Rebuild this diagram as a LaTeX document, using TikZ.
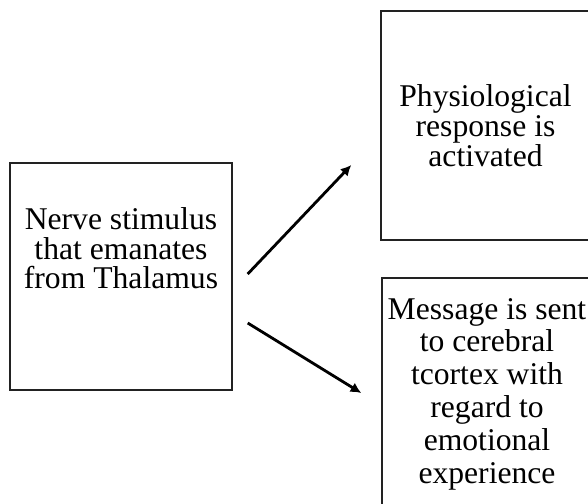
\documentclass[tikz,border=0pt]{standalone}
\usepackage{fontspec}
\setmainfont{Liberation Serif}
\usepackage{tikz}
\usetikzlibrary{positioning, arrows.meta, calc}
\definecolor{boxline}{HTML}{222222}

\begin{document}
\begin{tikzpicture}[
  x=0.03cm, y=-0.03cm,
  stagebox/.style={
    rectangle, draw=boxline, line width=1.2pt, fill=white,
    font=\fontsize{27}{28}\selectfont, align=center, inner sep=4pt
  },
  flow/.style={line width=2.4pt, -{Latex[length=3.2mm,width=3.2mm]}},
]
\useasboundingbox (0,0) rectangle (588,504);

% Source box
\node[stagebox, font=\fontsize{27}{25}\selectfont, text depth=1.7cm,
  minimum width=6.66cm, minimum height=6.81cm] (nerve) at (121,276.5) {
  Nerve stimulus\\
  that emanates\\
  from Thalamus
};

% Response boxes
\node[stagebox, font=\fontsize{27}{25.5}\selectfont,
  minimum width=6.27cm, minimum height=6.87cm] (phys) at (485.5,125.5) {
  Physiological\\
  response is\\
  activated
};

\node[stagebox, minimum width=6.3cm, minimum height=6.96cm] (msg) at (487,394) {
  Message is sent\\
  to cerebral\\
  tcortex with\\
  regard to\\
  emotional\\
  experience
};

% Arrows
\draw[flow] ($(nerve.east)+(15,-2.5)$) -- ($(phys.west)+(-29,39.5)$);
\draw[flow] ($(nerve.east)+(15,46.5)$) -- ($(msg.west)+(-20,-1)$);

\end{tikzpicture}
\end{document}
